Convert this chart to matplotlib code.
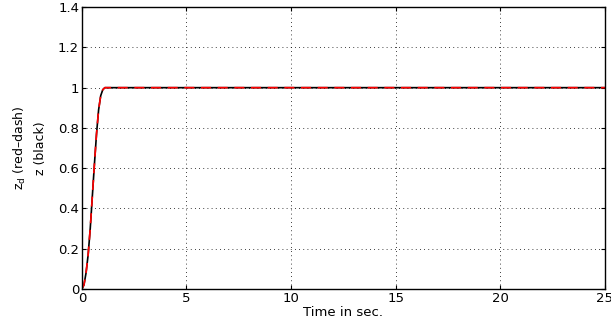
import numpy as np
import matplotlib.pyplot as plt

plt.rcParams['font.family'] = ['DejaVu Sans']

# step response samples (time in seconds)
t = [0, 0.1, 0.2, 0.3, 0.4, 0.5, 0.6, 0.7, 0.8, 0.9, 1.0, 1.1, 1.2, 25]
z_d = [0, 0.02, 0.08, 0.17, 0.30, 0.46, 0.62, 0.77, 0.89, 0.96, 0.99, 1.0, 1.0, 1.0]
z = [0, 0.02, 0.08, 0.17, 0.30, 0.46, 0.62, 0.77, 0.89, 0.96, 0.99, 1.0, 1.0, 1.0]

xticks = [0, 5, 10, 15, 20, 25]
yticks = [0, 0.2, 0.4, 0.6, 0.8, 1, 1.2, 1.4]
yticklabels = ['0', '0.2', '0.4', '0.6', '0.8', '1', '1.2', '1.4']

fig = plt.figure(figsize=(6.11, 3.25), dpi=100)
ax = fig.add_axes([0.134, 0.111, 0.856, 0.867])

ax.plot(t, z, color='black', lw=1.2)
ax.plot(t, z_d, color='red', lw=1.2, ls=(0, (6, 4)))

ax.set_xlim(0, 25)
ax.set_ylim(0, 1.4)
ax.set_xticks(xticks)
ax.set_yticks(yticks)
ax.set_yticklabels(yticklabels)
ax.tick_params(direction='in', length=3, labelsize=9.5, pad=2, top=True, right=True)
ax.grid(True, color='black', ls=(0, (1, 4)), lw=0.6)
for s in ax.spines.values():
    s.set_linewidth(1.0)

ax.set_xlabel('Time in sec.', fontsize=9.5, labelpad=1)
ax.set_ylabel('z$_\\mathrm{d}$ (red\u2013dash)\nz (black)', fontsize=9,
              labelpad=8, linespacing=1.6)

fig.savefig('out.png', dpi=100)
